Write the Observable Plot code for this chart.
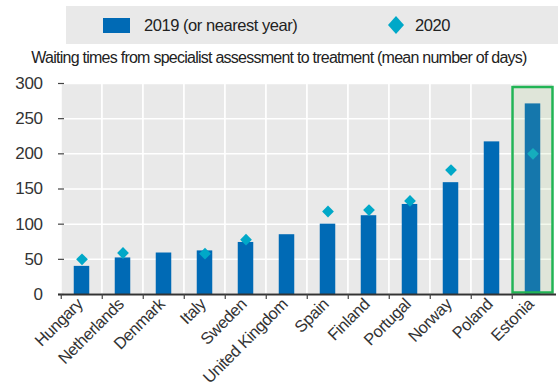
<!DOCTYPE html>
<html>
<head>
<meta charset="utf-8">
<script src="https://cdn.jsdelivr.net/npm/d3@7"></script>
<script src="https://cdn.jsdelivr.net/npm/@observablehq/plot@0.6"></script>
<style>
  html, body { margin: 0; padding: 0; background: #fff; }
  body { width: 558px; height: 389px; overflow: hidden; font-family: "Liberation Sans", Arial, sans-serif; color: #222; }
  #header { position: relative; width: 558px; height: 76px; }
  #legend { position: absolute; left: 66px; top: 6px; width: 492px; height: 38px; background: #e9e9e9; }
  .lg-item { position: absolute; top: 0; height: 38px; display: flex; align-items: center; font-size: 16.5px; letter-spacing: -0.45px; color: #222; }
  #title { position: absolute; left: 0; width: 558px; top: 49px; text-align: center; font-size: 16px; letter-spacing: -0.75px; color: #222; white-space: nowrap; }
  #chart svg { display: block; }
  #chart svg text { letter-spacing: -0.4px; }
</style>
</head>
<body>
<div id="header">
  <div id="legend">
    <div class="lg-item" style="left:37px"><svg width="27" height="15" style="margin-right:14px"><rect width="27" height="15" fill="#006ab5"/></svg><span id="lab2019"></span></div>
    <div class="lg-item" style="left:322px"><svg width="16" height="18" style="margin-right:11px"><polygon points="8,0 16,9 8,18 0,9" fill="#00a8c8"/></svg><span id="lab2020"></span></div>
  </div>
  <div id="title"></div>
</div>
<div id="chart"></div>
<script>
// ---- data ----
const countries = ["Hungary", "Netherlands", "Denmark", "Italy", "Sweden", "United Kingdom", "Spain", "Finland", "Portugal", "Norway", "Poland", "Estonia"];
const values2019 = [40, 52, 59, 62, 74, 85, 100, 112, 128, 159, 217, 271];
const values2020 = [50, 59, null, 58, 78, null, 118, 120, 133, 177, null, 200];
const yTicks = [0, 50, 100, 150, 200, 250, 300];
const highlighted = ["Estonia"];
const seriesLabels = ["2019 (or nearest year)", "2020"];
const titleText = "Waiting times from specialist assessment to treatment (mean number of days)";

document.getElementById("lab2019").textContent = seriesLabels[0];
document.getElementById("lab2020").textContent = seriesLabels[1];
document.getElementById("title").textContent = titleText;

const rows = countries.map((c, i) => ({country: c, v2019: values2019[i], v2020: values2020[i]}));
const rows2020 = rows.filter(d => d.v2020 != null);
const yMax = yTicks[yTicks.length - 1];

const W = 558, H = 313;
const mL = 58, mR = 2;
const bw = (W - mL - mR) / countries.length;
const barW = 16;
const inset = (bw - barW) / 2;
const font = "Liberation Sans, Arial, sans-serif";

const chart = Plot.plot({
  width: W,
  height: H,
  marginTop: 7,
  marginBottom: 95,
  marginLeft: mL,
  marginRight: mR,
  style: {fontFamily: font, background: "#fff", color: "#222", overflow: "visible"},
  x: {domain: countries, paddingInner: 0, paddingOuter: 0, label: null},
  y: {domain: [0, yMax], label: null},
  marks: [
    // panel background cells with white vertical separators
    Plot.barY(countries, {x: d => d, y: () => yMax, fill: "#e9e9e9", stroke: "#ffffff", strokeWidth: 1.5}),
    Plot.gridY(yTicks, {stroke: "#ffffff", strokeOpacity: 1, strokeWidth: 1.5}),
    Plot.barY(rows, {x: "country", y: "v2019", fill: "#006ab5", insetLeft: inset, insetRight: inset}),
    Plot.dot(rows2020, {x: "country", y: "v2020", symbol: "diamond2", r: 5.3, fill: "#00a8c8", stroke: "none"}),
    // highlight box
    Plot.barY(highlighted, {x: d => d, y: () => yMax, fill: "#a3d076", fillOpacity: 0.13, stroke: "#22b455", strokeWidth: 2.5, insetTop: 4, insetBottom: 1.5, insetLeft: 0.5, insetRight: 0.5}),
    // y axis
    Plot.axisY({ticks: yTicks, tickSize: 0, tickPadding: 16, fontSize: 17, fill: "#333"}),
    Plot.axisY({ticks: yTicks, tickSize: 6, dx: 6, text: null, stroke: "#444", strokeWidth: 1.2}),
    Plot.ruleX([0], {frameAnchor: "left", stroke: "#444", strokeWidth: 1.5}),
    // x axis
    Plot.ruleY([0], {stroke: "#333", strokeWidth: 1.8}),
    Plot.axisX({tickSize: 5, dx: -bw / 2, text: null, stroke: "#444", strokeWidth: 1.2}),
    Plot.axisX({tickSize: 0, tickPadding: 7, tickRotate: -45, fontSize: 16.5, fill: "#333", dx: -2})
  ]
});
document.getElementById("chart").appendChild(chart);
</script>
</body>
</html>
